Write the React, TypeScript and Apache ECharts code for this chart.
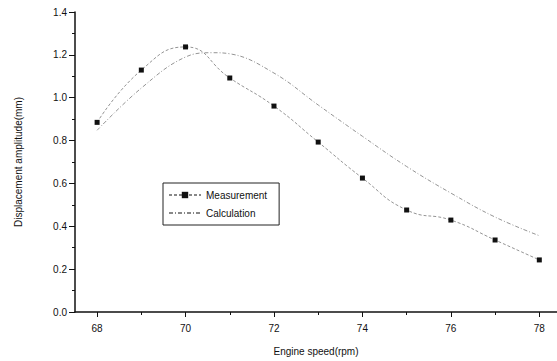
import React, { useEffect, useRef } from "react";
import * as echarts from "echarts";

const speeds = [68, 69, 70, 71, 72, 73, 74, 75, 76, 77, 78];
const measurement = [0.885, 1.129, 1.237, 1.092, 0.961, 0.793, 0.625, 0.476, 0.429, 0.336, 0.243];
const calcSpeeds = [68, 69, 70, 70.6, 71, 72, 73, 74, 75, 76, 77, 78];
const calculation = [0.848, 1.045, 1.19, 1.21, 1.205, 1.115, 0.966, 0.82, 0.679, 0.555, 0.443, 0.356];
const xMajor = [68, 70, 72, 74, 76, 78];
const xMinor = [69, 71, 73, 75, 77];

const FONT = "Liberation Sans, Arial, sans-serif";

export default function App() {
  const ref = useRef<HTMLDivElement>(null);
  useEffect(() => {
    if (!ref.current) return;
    const chart = echarts.init(ref.current, undefined, { renderer: "svg" });
    chart.setOption({
      animation: false,
      backgroundColor: "#ffffff",
      grid: { left: 75, right: 0, top: 12, bottom: 49, containLabel: false },
      legend: {
        orient: "vertical",
        left: 163,
        top: 183,
        padding: [7, 12, 7, 5],
        itemWidth: 32,
        itemHeight: 8,
        itemGap: 8,
        borderColor: "#222",
        borderWidth: 1,
        backgroundColor: "#fff",
        textStyle: { fontFamily: FONT, fontSize: 10, color: "#111" },
        data: [
          { name: "Measurement" },
          { name: "Calculation", itemStyle: { opacity: 0 } },
        ],
      },
      xAxis: [
        {
          type: "value",
          min: 67.5,
          max: 78.4,
          position: "bottom",
          name: "Engine speed(rpm)",
          nameLocation: "middle",
          nameGap: 34,
          nameTextStyle: { fontFamily: FONT, fontSize: 10, color: "#111" },
          axisLine: { show: true, lineStyle: { color: "#111", width: 1.5 } },
          axisTick: { show: true, inside: false, length: 5, customValues: xMajor, lineStyle: { color: "#111" } },
          axisLabel: { customValues: xMajor, margin: 11, fontFamily: FONT, fontSize: 10, color: "#111" },
          splitLine: { show: false },
        },
        {
          type: "value",
          min: 67.5,
          max: 78.4,
          position: "bottom",
          axisLine: { show: false },
          axisTick: { show: true, inside: false, length: 3, customValues: xMinor, lineStyle: { color: "#111" } },
          axisLabel: { show: false },
          splitLine: { show: false },
        },
      ],
      yAxis: {
        type: "value",
        min: 0,
        max: 1.4,
        interval: 0.2,
        name: "Displacement amplitude(mm)",
        nameLocation: "middle",
        nameGap: 52,
        nameTextStyle: { fontFamily: FONT, fontSize: 10, color: "#111" },
        axisLine: { show: true, lineStyle: { color: "#111", width: 1.5 } },
        axisTick: { show: true, inside: false, length: 6, lineStyle: { color: "#111" } },
        minorTick: { show: true, splitNumber: 2, length: 3, lineStyle: { color: "#111" } },
        axisLabel: {
          margin: 8,
          fontFamily: FONT,
          fontSize: 10,
          color: "#111",
          formatter: (v: number) => v.toFixed(1),
        },
        splitLine: { show: false },
      },
      series: [
        {
          name: "Measurement",
          type: "line",
          xAxisIndex: 0,
          data: speeds.map((s, i) => [s, measurement[i]]),
          smooth: 0.5,
          symbol: "rect",
          symbolSize: 5,
          itemStyle: { color: "#111" },
          lineStyle: { color: "#888", width: 0.9, type: [3, 2] },
        },
        {
          name: "Calculation",
          type: "line",
          xAxisIndex: 0,
          data: calcSpeeds.map((s, i) => [s, calculation[i]]),
          smooth: 0.4,
          symbol: "none",
          itemStyle: { color: "#888" },
          lineStyle: { color: "#888", width: 0.9, type: [4, 2, 1, 2] },
        },
      ],
    });
    return () => chart.dispose();
  }, []);
  return <div ref={ref} style={{ width: 557, height: 361, position: "absolute", left: 0, top: 0 }} />;
}
